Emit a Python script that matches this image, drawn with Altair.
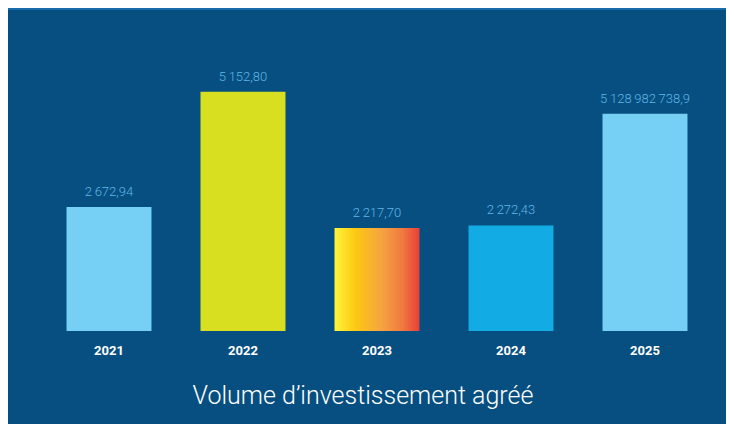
import altair as alt
import pandas as pd

years = ["2021", "2022", "2023", "2024", "2025"]
bar_values = [2672.94, 5152.80, 2217.70, 2272.43, 4680.0]
value_labels = ["2\u2009672,94", "5\u2009152,80", "2\u2009217,70", "2\u2009272,43", "5\u2009128\u2009982\u2009738,9"]
bar_colors = ["#76d0f5", "#d7df20", "#f5a040", "#12abe3", "#76d0f5"]
chart_title = ["Volume d\u2019investissement agr\u00e9\u00e9"]

BG = "#074f80"
df = pd.DataFrame({"year": years, "value": bar_values, "label": value_labels, "color": bar_colors})
tdf = pd.DataFrame({"t": chart_title})

x = alt.X("year:N", sort=years,
          scale=alt.Scale(paddingInner=0.366, paddingOuter=0.183),
          axis=alt.Axis(title=None, domain=False, ticks=False, labelAngle=0,
                        labelPadding=13, labelFontSize=13, labelFontWeight="bold",
                        labelColor="white", labelFont="Roboto"))
y = alt.Y("value:Q", scale=alt.Scale(domain=[0, 5600]), axis=None)

base = alt.Chart(df)

bars = base.transform_filter(alt.datum.year != "2023").mark_bar().encode(
    x=x, y=y, color=alt.Color("color:N", scale=None))

gradient = {
    "gradient": "linear", "x1": 0, "y1": 0, "x2": 1, "y2": 0,
    "stops": [
        {"offset": 0, "color": "#fff43c"},
        {"offset": 0.25, "color": "#fcc812"},
        {"offset": 0.55, "color": "#f6a441"},
        {"offset": 0.8, "color": "#f07a40"},
        {"offset": 1, "color": "#e83f38"},
    ],
}
bar23 = base.transform_filter(alt.datum.year == "2023").mark_bar(color=gradient).encode(x=x, y=y)

labels = base.mark_text(dy=-11, baseline="alphabetic", fontSize=13, font="Roboto",
                        fontWeight=300, color="#5fb6e6").encode(x=x, y=y, text="label:N")

title = alt.Chart(tdf).mark_text(fontSize=25, font="Roboto", fontWeight=300, color="white",
                                 baseline="middle", align="center").encode(
    x=alt.value(321), y=alt.value(325), text="t:N")

top_line = base.mark_rule(color="#1a6cab", strokeWidth=1.5).encode(
    x=alt.value(-36), x2=alt.value(700), y=alt.value(-62))

chart = alt.layer(top_line, bars, bar23, labels, title).properties(
    width=670, height=260,
    padding={"left": 34, "top": 63, "right": 14, "bottom": 93},
    autosize=alt.AutoSizeParams(type="none"),
    background=BG,
).configure_view(stroke=None)

chart.save("out.html", embed_options={"renderer": "svg", "actions": False})
